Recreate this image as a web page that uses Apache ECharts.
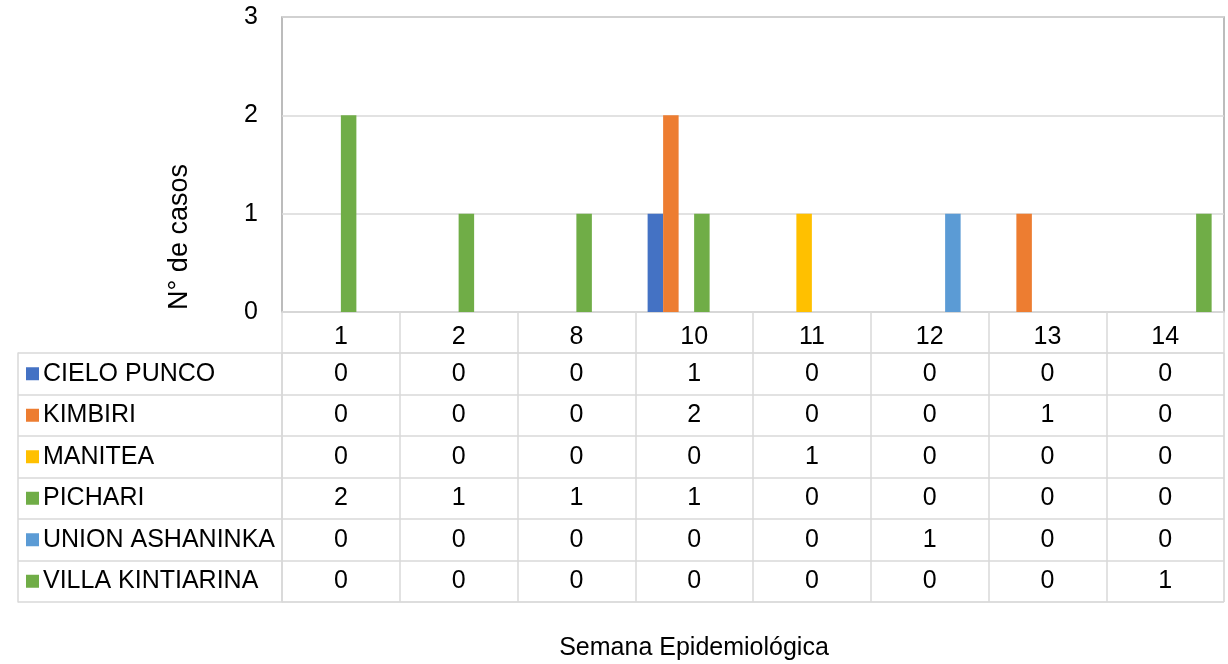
<!DOCTYPE html>
<html>
<head>
<meta charset="utf-8">
<script src="https://cdn.jsdelivr.net/npm/echarts@6/dist/echarts.min.js"></script>
<style>html,body{margin:0;padding:0;background:#fff}#c{width:1228px;height:664px}</style>
</head>
<body>
<div id="c"></div>
<script>
var categories = ['1', '2', '8', '10', '11', '12', '13', '14'];
var seriesNames = ['CIELO PUNCO', 'KIMBIRI', 'MANITEA', 'PICHARI', 'UNION ASHANINKA', 'VILLA KINTIARINA'];
var cieloPunco = [0, 0, 0, 1, 0, 0, 0, 0];
var kimbiri = [0, 0, 0, 2, 0, 0, 1, 0];
var manitea = [0, 0, 0, 0, 1, 0, 0, 0];
var pichari = [2, 1, 1, 1, 0, 0, 0, 0];
var unionAshaninka = [0, 0, 0, 0, 0, 1, 0, 0];
var villaKintiarina = [0, 0, 0, 0, 0, 0, 0, 1];
var yTicks = [0, 1, 2, 3];
var yAxisTitle = 'N° de casos';
var xAxisTitle = 'Semana Epidemiológica';

var values = [cieloPunco, kimbiri, manitea, pichari, unionAshaninka, villaKintiarina];
var colors = ['#4472C4', '#ED7D31', '#FFC000', '#70AD47', '#5B9BD5', '#70AD47'];
var FONT = '"Liberation Sans", Arial, sans-serif';
var GRID_LINE = '#d9d9d9';

var rich = {};
colors.forEach(function (c, i) {
  rich['s' + i] = { backgroundColor: c, width: 13, height: 13 };
});
rich.n = { fontSize: 25, fontFamily: FONT, color: '#000', padding: [0, 0, 0, 4] };

var series = [];
values.forEach(function (arr, i) {
  series.push({
    name: seriesNames[i], type: 'bar', xAxisIndex: 0, yAxisIndex: 0,
    data: arr, barGap: '0%', barCategoryGap: '21%',
    itemStyle: { color: colors[i] }, silent: true
  });
});
var cells = [];
values.forEach(function (arr, i) {
  arr.forEach(function (v, j) { cells.push([j, i, v]); });
});
series.push({
  type: 'scatter', xAxisIndex: 1, yAxisIndex: 1, data: cells,
  symbol: 'circle', symbolSize: 1, itemStyle: { color: 'rgba(0,0,0,0)', opacity: 1 },
  label: { show: true, position: 'inside', fontSize: 25, fontFamily: FONT, color: '#000', opacity: 1,
    formatter: function (p) { return String(p.value[2]); } },
  silent: true
});

var chart = echarts.init(document.getElementById('c'));
chart.setOption({
  animation: false,
  backgroundColor: '#fff',
  grid: [
    { left: 282, top: 17, width: 942, height: 295, show: true, borderColor: '#a6a6a6', borderWidth: 1.5, containLabel: false },
    { left: 282, top: 353, width: 942, height: 249, show: true, borderColor: GRID_LINE, borderWidth: 1, containLabel: false }
  ],
  xAxis: [
    { type: 'category', gridIndex: 0, data: categories,
      axisLine: { lineStyle: { color: GRID_LINE, width: 1.5 } },
      axisTick: { show: true, interval: 0, length: 41, lineStyle: { color: GRID_LINE, width: 1.5 } },
      axisLabel: { margin: 13, fontSize: 25, fontFamily: FONT, color: '#000', interval: 0 } },
    { type: 'category', gridIndex: 1, data: categories,
      axisLine: { show: false }, axisTick: { show: false }, axisLabel: { show: false },
      splitLine: { show: true, interval: 0, lineStyle: { color: GRID_LINE, width: 1.5 } } }
  ],
  yAxis: [
    { type: 'value', gridIndex: 0, min: yTicks[0], max: yTicks[yTicks.length - 1], interval: 1,
      axisLine: { show: false }, axisTick: { show: false },
      axisLabel: { margin: 24, fontSize: 25, fontFamily: FONT, color: '#000' },
      splitLine: { show: true, lineStyle: { color: GRID_LINE, width: 1.5 } } },
    { type: 'category', gridIndex: 1, data: seriesNames, inverse: true,
      axisLine: { show: true, lineStyle: { color: GRID_LINE, width: 1.5 } },
      axisTick: { show: true, interval: 0, length: 264, lineStyle: { color: GRID_LINE, width: 1.5 } },
      axisLabel: { margin: 256, align: 'left', interval: 0,
        formatter: function (v, i) { return '{s' + i + '|}{n|' + v + '}'; }, rich: rich },
      splitLine: { show: true, interval: 0, lineStyle: { color: GRID_LINE, width: 1.5 } } },
    { type: 'category', gridIndex: 1, data: seriesNames, inverse: true, position: 'left', offset: 264,
      axisLine: { show: true, lineStyle: { color: GRID_LINE, width: 1.5 } },
      axisTick: { show: false }, axisLabel: { show: false }, splitLine: { show: false } }
  ],
  series: series,
  graphic: [
    { type: 'text', x: 180, y: 237, rotation: Math.PI / 2,
      style: { text: yAxisTitle, fontSize: 27, fontFamily: FONT, fill: '#000', align: 'center', verticalAlign: 'middle' } },
    { type: 'text', x: 694, y: 648,
      style: { text: xAxisTitle, fontSize: 25, fontFamily: FONT, fill: '#000', align: 'center', verticalAlign: 'middle' } }
  ]
});
</script>
</body>
</html>
